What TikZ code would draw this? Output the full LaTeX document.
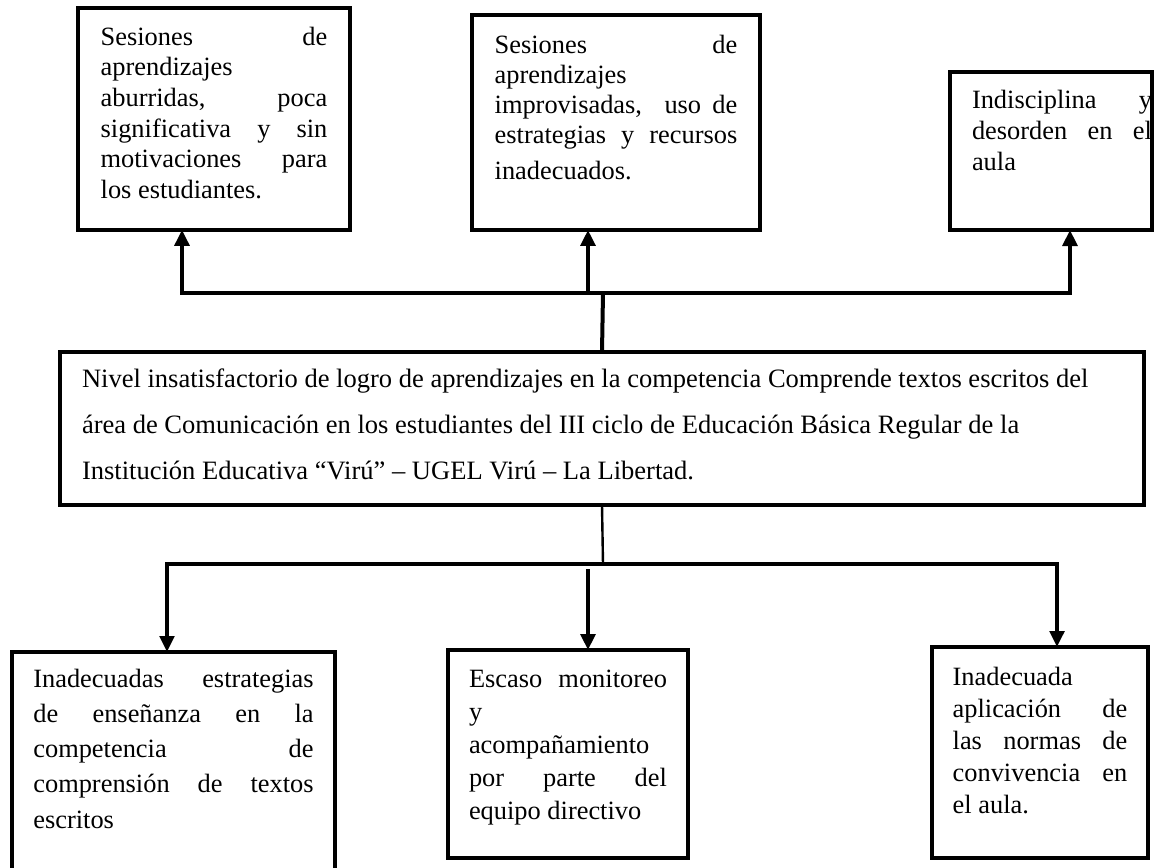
\documentclass[tikz,border=0pt]{standalone}
\usepackage{fontspec}
\setmainfont{Liberation Serif}
\usetikzlibrary{arrows.meta}

\begin{document}
\begin{tikzpicture}[x=0.75pt, y=-0.75pt,
        cbox/.style={draw, line width=3pt, anchor=north west, outer sep=0pt},
        link/.style={line width=3pt},
        headed/.style={-{Triangle[width=11pt,length=12pt]}}]

        \useasboundingbox (0,0) rectangle (1158,868);

        % --- TOP ROW (effects) ---
        \node[cbox, inner xsep=17pt, inner ysep=14.2pt, font=\fontsize{19.8}{23}\selectfont] (tl) at (78,8)
            {\parbox[t][138pt][t]{170pt}{Sesiones\hfill de\\ aprendizajes\\ aburridas,\hfill poca\\ significativa\hfill y\hfill sin\\ motivaciones\hfill para\\ los estudiantes.}};
        \node[cbox, inner xsep=17pt, inner ysep=15pt, font=\fontsize{19.8}{22.5}\selectfont] (tm) at (472,15)
            {\parbox[t][131.2pt][t]{182pt}{Sesiones\hfill de\\ aprendizajes\\ improvisadas,\hfill\hfill uso\hfill de\\ estrategias\hfill y\hfill recursos\\[5pt] inadecuados.}};
        \node[cbox, inner xsep=0pt, inner ysep=13.5pt, font=\fontsize{19.8}{23.25}\selectfont] (tr) at (950,72)
            {\hspace{16.5pt}\parbox[t][91.5pt][t]{135pt}{Indisciplina\hfill y\\ desorden\hfill en\hfill el\\ aula}\hspace{2.25pt}};

        % --- CENTRE (problem) ---
        \node[cbox, line width=2.6pt, inner xsep=16.5pt, inner ysep=12.7pt, font=\fontsize{19.9}{34.5}\selectfont] (ctr) at (60,352)
            {\parbox[t][89.35pt][t]{780pt}{Nivel insatisfactorio de logro de aprendizajes en la competencia Comprende textos escritos del\\ área de Comunicación en los estudiantes del III ciclo de Educación Básica Regular de la\\ Institución Educativa “Virú” – UGEL Virú – La Libertad.}};

        % --- BOTTOM ROW (causes) ---
        \node[cbox, inner xsep=16pt, inner ysep=12.7pt, font=\fontsize{19.8}{26.4}\selectfont] (bl) at (12,652)
            {\parbox[t][145.6pt][t]{210.25pt}{Inadecuadas\hfill estrategias\\ de\hfill enseñanza\hfill en\hfill la\\ competencia\hfill de\\ comprensión\hfill de\hfill textos\\ escritos}};
        \node[cbox, inner xsep=15.75pt, inner ysep=15pt, font=\fontsize{19.8}{24.75}\selectfont] (bm) at (448,650)
            {\parbox[t][126pt][t]{148.5pt}{Escaso\hfill monitoreo\\ y\\ acompañamiento\\ por\hfill parte\hfill del\\ equipo directivo}};
        \node[cbox, inner xsep=15.5pt, inner ysep=15pt, font=\fontsize{19.8}{24}\selectfont] (br) at (932,647)
            {\parbox[t][128.2pt][t]{131pt}{Inadecuada\\ aplicación\hfill de\\ las\hfill normas\hfill de\\ convivencia\hfill en\\ el aula.}};

        % --- Connectors up ---
        \coordinate (top-mid) at (603,293);
        \coordinate (top-l) at (182,293);
        \coordinate (top-m) at (588,293);
        \coordinate (top-r) at (1070,293);
        \draw[link] (ctr.north) -- (top-mid);
        \draw[link, headed] (top-mid) -- (top-l) -- (top-l |- tl.south);
        \draw[link, headed] (top-mid) -- (top-r) -- (top-r |- tr.south);
        \draw[link, headed] (top-m) -- (top-m |- tm.south);

        % --- Connectors down ---
        \coordinate (bot-mid) at (603,564);
        \coordinate (bot-l) at (167,564);
        \coordinate (bot-m) at (588,569);
        \coordinate (bot-r) at (1057,564);
        \draw[link, line width=1.8pt] (ctr.south) -- (bot-mid);
        \draw[link, line width=2.6pt, headed] (bot-mid) -- (bot-l) -- (bot-l |- bl.north);
        \draw[link, line width=2.6pt, headed] (bot-mid) -- (bot-r) -- (bot-r |- br.north);
        \draw[link, headed] (bot-m) -- (bot-m |- bm.north);

\end{tikzpicture}
\end{document}
